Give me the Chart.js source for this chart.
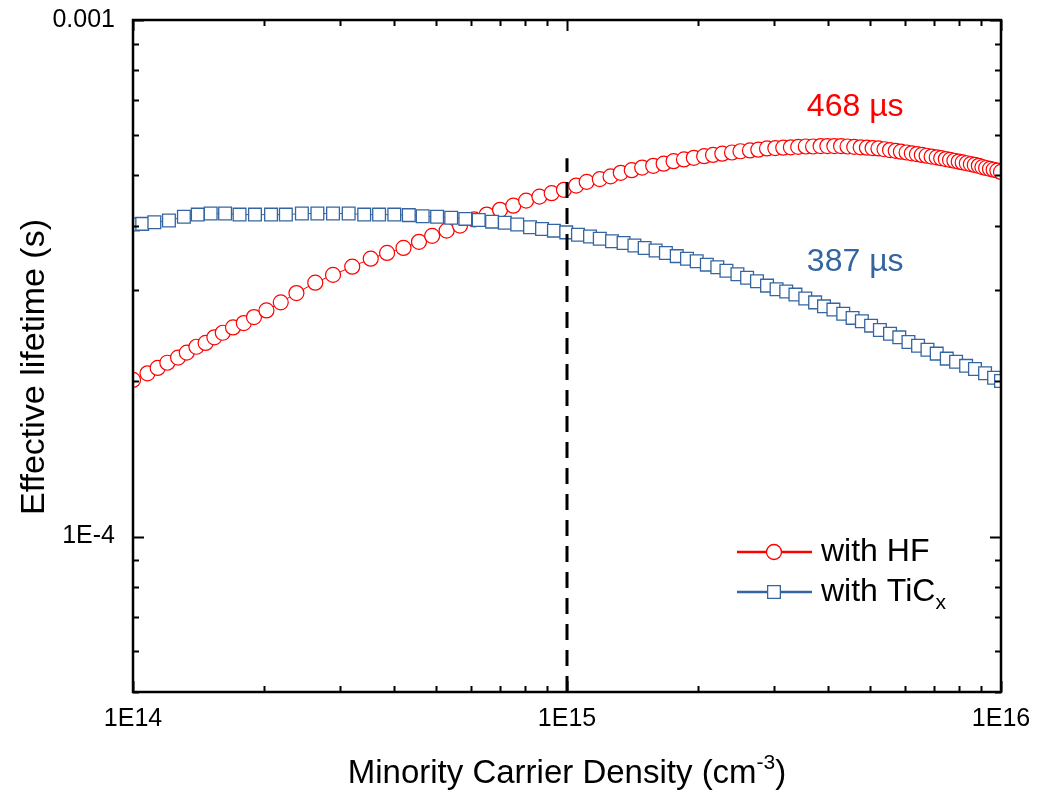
<!DOCTYPE html>
<html>
<head>
<meta charset="utf-8">
<script src="https://cdn.jsdelivr.net/npm/chart.js@4.4.0/dist/chart.umd.min.js"></script>
<style>
  html, body { margin: 0; padding: 0; background: #fff; }
  #wrap { width: 1040px; height: 794px; }
</style>
</head>
<body>
<div id="wrap"><canvas id="lifetime"></canvas></div>
<script>
// minority carrier density (cm-3) and effective lifetime (s)
var hfDensity = [
  1.00e14, 1.08e14, 1.14e14, 1.20e14, 1.27e14, 1.33e14, 1.40e14, 1.47e14, 1.54e14, 1.61e14,
  1.70e14, 1.80e14, 1.90e14, 2.03e14, 2.19e14, 2.38e14, 2.63e14, 2.89e14, 3.20e14, 3.53e14,
  3.85e14, 4.20e14, 4.56e14, 4.89e14, 5.28e14, 5.67e14, 6.11e14, 6.53e14, 7.01e14, 7.52e14,
  8.05e14, 8.64e14, 9.22e14, 9.84e14, 1.05e15, 1.11e15, 1.19e15, 1.26e15, 1.33e15, 1.41e15,
  1.49e15, 1.58e15, 1.67e15, 1.76e15, 1.86e15, 1.96e15, 2.07e15, 2.17e15, 2.28e15, 2.40e15,
  2.51e15, 2.64e15, 2.76e15, 2.89e15, 3.02e15, 3.15e15, 3.28e15, 3.41e15, 3.55e15, 3.69e15,
  3.84e15, 3.98e15, 4.13e15, 4.28e15, 4.43e15, 4.59e15, 4.75e15, 4.91e15, 5.06e15, 5.22e15,
  5.39e15, 5.55e15, 5.72e15, 5.88e15, 6.06e15, 6.23e15, 6.40e15, 6.57e15, 6.74e15, 6.92e15,
  7.11e15, 7.28e15, 7.46e15, 7.63e15, 7.81e15, 7.99e15, 8.16e15, 8.34e15, 8.52e15, 8.70e15,
  8.89e15, 9.06e15, 9.24e15, 9.43e15, 9.62e15, 9.81e15, 1.00e16
];
var hfLifetime = [
  2.01e-4, 2.07e-4, 2.12e-4, 2.17e-4, 2.22e-4, 2.27e-4, 2.33e-4, 2.37e-4, 2.43e-4, 2.48e-4,
  2.54e-4, 2.59e-4, 2.66e-4, 2.74e-4, 2.84e-4, 2.96e-4, 3.10e-4, 3.21e-4, 3.33e-4, 3.45e-4,
  3.54e-4, 3.62e-4, 3.72e-4, 3.82e-4, 3.91e-4, 4.00e-4, 4.11e-4, 4.20e-4, 4.29e-4, 4.37e-4,
  4.47e-4, 4.55e-4, 4.62e-4, 4.69e-4, 4.78e-4, 4.86e-4, 4.92e-4, 4.98e-4, 5.06e-4, 5.12e-4,
  5.18e-4, 5.22e-4, 5.27e-4, 5.33e-4, 5.37e-4, 5.41e-4, 5.45e-4, 5.48e-4, 5.51e-4, 5.54e-4,
  5.57e-4, 5.59e-4, 5.61e-4, 5.64e-4, 5.65e-4, 5.66e-4, 5.67e-4, 5.68e-4, 5.69e-4, 5.69e-4,
  5.70e-4, 5.70e-4, 5.70e-4, 5.70e-4, 5.69e-4, 5.68e-4, 5.67e-4, 5.66e-4, 5.65e-4, 5.64e-4,
  5.62e-4, 5.60e-4, 5.58e-4, 5.56e-4, 5.54e-4, 5.52e-4, 5.50e-4, 5.48e-4, 5.46e-4, 5.44e-4,
  5.42e-4, 5.40e-4, 5.38e-4, 5.36e-4, 5.34e-4, 5.32e-4, 5.30e-4, 5.28e-4, 5.26e-4, 5.24e-4,
  5.22e-4, 5.19e-4, 5.17e-4, 5.15e-4, 5.13e-4, 5.11e-4, 5.08e-4
];
var ticDensity = [
  1.00e14, 1.05e14, 1.12e14, 1.21e14, 1.31e14, 1.41e14, 1.51e14, 1.63e14, 1.76e14, 1.91e14,
  2.08e14, 2.25e14, 2.45e14, 2.66e14, 2.89e14, 3.14e14, 3.41e14, 3.69e14, 4.00e14, 4.32e14,
  4.65e14, 5.02e14, 5.41e14, 5.83e14, 6.26e14, 6.72e14, 7.19e14, 7.68e14, 8.22e14, 8.76e14,
  9.33e14, 9.96e14, 1.06e15, 1.13e15, 1.19e15, 1.27e15, 1.35e15, 1.43e15, 1.51e15, 1.60e15,
  1.69e15, 1.79e15, 1.89e15, 1.99e15, 2.10e15, 2.22e15, 2.33e15, 2.47e15, 2.60e15, 2.74e15,
  2.89e15, 3.04e15, 3.20e15, 3.36e15, 3.54e15, 3.73e15, 3.91e15, 4.11e15, 4.33e15, 4.55e15,
  4.78e15, 5.02e15, 5.26e15, 5.55e15, 5.83e15, 6.12e15, 6.44e15, 6.77e15, 7.11e15, 7.50e15,
  7.88e15, 8.31e15, 8.71e15, 9.19e15, 9.64e15, 1.00e16
];
var ticLifetime = [
  4.02e-4, 4.03e-4, 4.06e-4, 4.09e-4, 4.16e-4, 4.20e-4, 4.22e-4, 4.22e-4, 4.20e-4, 4.20e-4,
  4.20e-4, 4.20e-4, 4.22e-4, 4.22e-4, 4.22e-4, 4.22e-4, 4.20e-4, 4.20e-4, 4.20e-4, 4.19e-4,
  4.17e-4, 4.16e-4, 4.14e-4, 4.12e-4, 4.10e-4, 4.07e-4, 4.05e-4, 4.02e-4, 3.97e-4, 3.94e-4,
  3.91e-4, 3.88e-4, 3.84e-4, 3.81e-4, 3.77e-4, 3.73e-4, 3.70e-4, 3.66e-4, 3.62e-4, 3.58e-4,
  3.54e-4, 3.49e-4, 3.45e-4, 3.41e-4, 3.36e-4, 3.32e-4, 3.27e-4, 3.22e-4, 3.17e-4, 3.12e-4,
  3.06e-4, 3.01e-4, 2.98e-4, 2.94e-4, 2.89e-4, 2.84e-4, 2.79e-4, 2.75e-4, 2.70e-4, 2.65e-4,
  2.61e-4, 2.56e-4, 2.51e-4, 2.47e-4, 2.43e-4, 2.38e-4, 2.34e-4, 2.30e-4, 2.26e-4, 2.21e-4,
  2.18e-4, 2.14e-4, 2.11e-4, 2.07e-4, 2.03e-4, 2.00e-4
];
// dashed marker line at 1E15
var refDensity = [1e15, 1e15];
var refLifetime = [5e-5, 5.4e-4];

var xTicks = [1e14, 1e15, 1e16];
var xTickLabels = ["1E14", "1E15", "1E16"];
var yTicks = [1e-4, 1e-3];
var yTickLabels = ["1E-4", "0.001"];

var seriesNames = ["with HF", "with TiC"];
var lifetimeNotes = ["468 \u00b5s", "387 \u00b5s"];

var RED = "#ff0000";
var BLUE = "#3465a0";
var FONT = "'Liberation Sans', Arial, sans-serif";

function toPoints(xs, ys) {
  var pts = [];
  for (var i = 0; i < Math.min(xs.length, ys.length); i++) pts.push({ x: xs[i], y: ys[i] });
  return pts;
}

// frame + inward ticks on all four sides, titles, notes, legend
var frameTicks = {
  id: "frameTicks",
  afterDatasetsDraw: function (chart) {
    var ctx = chart.ctx, a = chart.chartArea;
    var xs = chart.scales.x, ys = chart.scales.y;
    ctx.save();
    ctx.strokeStyle = "#000";
    ctx.lineWidth = 2;
    ctx.beginPath();
    for (var e = 14; e <= 16; e++) {
      for (var m = 1; m <= 9; m++) {
        var v = m * Math.pow(10, e);
        if (v < xs.min * 0.999 || v > xs.max * 1.001) continue;
        var px = Math.round(xs.getPixelForValue(v)) + 0.5;
        var len = m === 1 ? 11 : 6;
        ctx.moveTo(px, a.bottom); ctx.lineTo(px, a.bottom - len);
        ctx.moveTo(px, a.top); ctx.lineTo(px, a.top + len);
      }
    }
    for (var e2 = -5; e2 <= -3; e2++) {
      for (var m2 = 1; m2 <= 9; m2++) {
        var w = m2 * Math.pow(10, e2);
        if (w < ys.min * 0.999 || w > ys.max * 1.001) continue;
        var py = Math.round(ys.getPixelForValue(w)) + 0.5;
        var len2 = m2 === 1 ? 11 : 6;
        ctx.moveTo(a.left, py); ctx.lineTo(a.left + len2, py);
        ctx.moveTo(a.right, py); ctx.lineTo(a.right - len2, py);
      }
    }
    ctx.stroke();
    ctx.lineWidth = 2.5;
    ctx.strokeRect(a.left, a.top, a.right - a.left, a.bottom - a.top);
    ctx.restore();
  },
  afterDraw: function (chart) {
    var ctx = chart.ctx, a = chart.chartArea;
    var xs = chart.scales.x, ys = chart.scales.y;
    ctx.save();

    // x axis title with superscript
    ctx.fillStyle = "#000";
    ctx.textBaseline = "alphabetic";
    var base = 783;
    var t1 = "Minority Carrier Density (cm";
    ctx.font = "21px " + FONT;
    var sw = ctx.measureText("-3").width;
    ctx.font = "33px " + FONT;
    var w1 = ctx.measureText(t1).width, w2 = ctx.measureText(")").width;
    var cx = (a.left + a.right) / 2;
    var x0 = cx - (w1 + sw + w2) / 2;
    ctx.textAlign = "left";
    ctx.fillText(t1, x0, base);
    ctx.font = "21px " + FONT;
    ctx.fillText("-3", x0 + w1, base - 14);
    ctx.font = "33px " + FONT;
    ctx.fillText(")", x0 + w1 + sw, base);

    // y axis title
    ctx.save();
    ctx.translate(44, 367);
    ctx.rotate(-Math.PI / 2);
    ctx.textAlign = "center";
    ctx.font = "34px " + FONT;
    ctx.fillText("Effective lifetime (s)", 0, 0);
    ctx.restore();

    // lifetime notes
    ctx.font = "32px " + FONT;
    ctx.textAlign = "left";
    ctx.textBaseline = "middle";
    var noteX = xs.getPixelForValue(3.57e15);
    ctx.fillStyle = RED;
    ctx.fillText(lifetimeNotes[0], noteX, ys.getPixelForValue(6.77e-4));
    ctx.fillStyle = BLUE;
    ctx.fillText(lifetimeNotes[1], noteX, ys.getPixelForValue(3.40e-4));

    // legend
    var rows = [552, 592];
    chart.data.datasets.slice(0, 2).forEach(function (ds, i) {
      var y = rows[i];
      ctx.strokeStyle = ds.borderColor;
      ctx.lineWidth = 2.5;
      ctx.beginPath();
      ctx.moveTo(737, y); ctx.lineTo(812, y);
      ctx.stroke();
      ctx.fillStyle = "#fff";
      ctx.lineWidth = 1.3;
      Chart.helpers.drawPoint(ctx, {
        pointStyle: ds.pointStyle, radius: ds.pointRadius, borderWidth: 1.3, rotation: 0
      }, 774, y);
      ctx.fillStyle = "#000";
      ctx.font = "32px " + FONT;
      ctx.textBaseline = "middle";
      ctx.fillText(seriesNames[i], 821, y);
      if (i === 1) {
        var tw = ctx.measureText(seriesNames[i]).width;
        ctx.font = "21px " + FONT;
        ctx.fillText("x", 821 + tw, y + 11);
      }
    });
    ctx.restore();
  }
};

new Chart(document.getElementById("lifetime"), {
  type: "scatter",
  data: {
    datasets: [
      {
        label: seriesNames[0],
        data: toPoints(hfDensity, hfLifetime),
        showLine: true,
        borderColor: RED,
        borderWidth: 1,
        pointStyle: "circle",
        pointRadius: 7.5,
        pointBorderWidth: 1.2,
        pointBorderColor: RED,
        pointBackgroundColor: "#fff",
        clip: 0,
        order: 2
      },
      {
        label: seriesNames[1],
        data: toPoints(ticDensity, ticLifetime),
        showLine: true,
        borderColor: BLUE,
        borderWidth: 1,
        pointStyle: "rect",
        pointRadius: 9,
        pointBorderWidth: 1.3,
        pointBorderColor: BLUE,
        pointBackgroundColor: "#fff",
        clip: 0,
        order: 1
      },
      {
        label: "1E15",
        data: toPoints(refDensity, refLifetime),
        showLine: true,
        borderColor: "#000",
        borderWidth: 3,
        borderDash: [16, 10],
        pointRadius: 0,
        order: 0
      }
    ]
  },
  options: {
    responsive: true,
    maintainAspectRatio: false,
    animation: false,
    layout: { padding: { left: 0, right: 39, top: 20, bottom: 0 } },
    plugins: { legend: { display: false }, tooltip: { enabled: false } },
    scales: {
      x: {
        type: "logarithmic",
        min: 1e14,
        max: 1e16,
        grid: { display: false, drawTicks: false },
        border: { display: false },
        afterFit: function (s) {
          s.height = 102;
          s.paddingLeft = 0;
          s.paddingRight = 0;
        },
        afterBuildTicks: function (s) {
          s.ticks = xTicks.map(function (v) { return { value: v, major: true }; });
        },
        ticks: {
          autoSkip: false,
          maxRotation: 0,
          padding: 12,
          color: "#000",
          font: { family: FONT, size: 25 },
          callback: function (v) {
            var i = xTicks.indexOf(v);
            return i >= 0 ? xTickLabels[i] : "";
          }
        }
      },
      y: {
        type: "logarithmic",
        min: 5e-5,
        max: 1e-3,
        grid: { display: false, drawTicks: false },
        border: { display: false },
        afterFit: function (s) {
          s.width = 133;
          s.paddingTop = 0;
          s.paddingBottom = 0;
        },
        afterBuildTicks: function (s) {
          s.ticks = yTicks.map(function (v) { return { value: v, major: true }; });
        },
        ticks: {
          autoSkip: false,
          padding: 18,
          color: "#000",
          font: { family: FONT, size: 25 },
          callback: function (v) {
            var i = yTicks.indexOf(v);
            return i >= 0 ? yTickLabels[i] : "";
          }
        }
      }
    }
  },
  plugins: [frameTicks]
});
</script>
</body>
</html>
